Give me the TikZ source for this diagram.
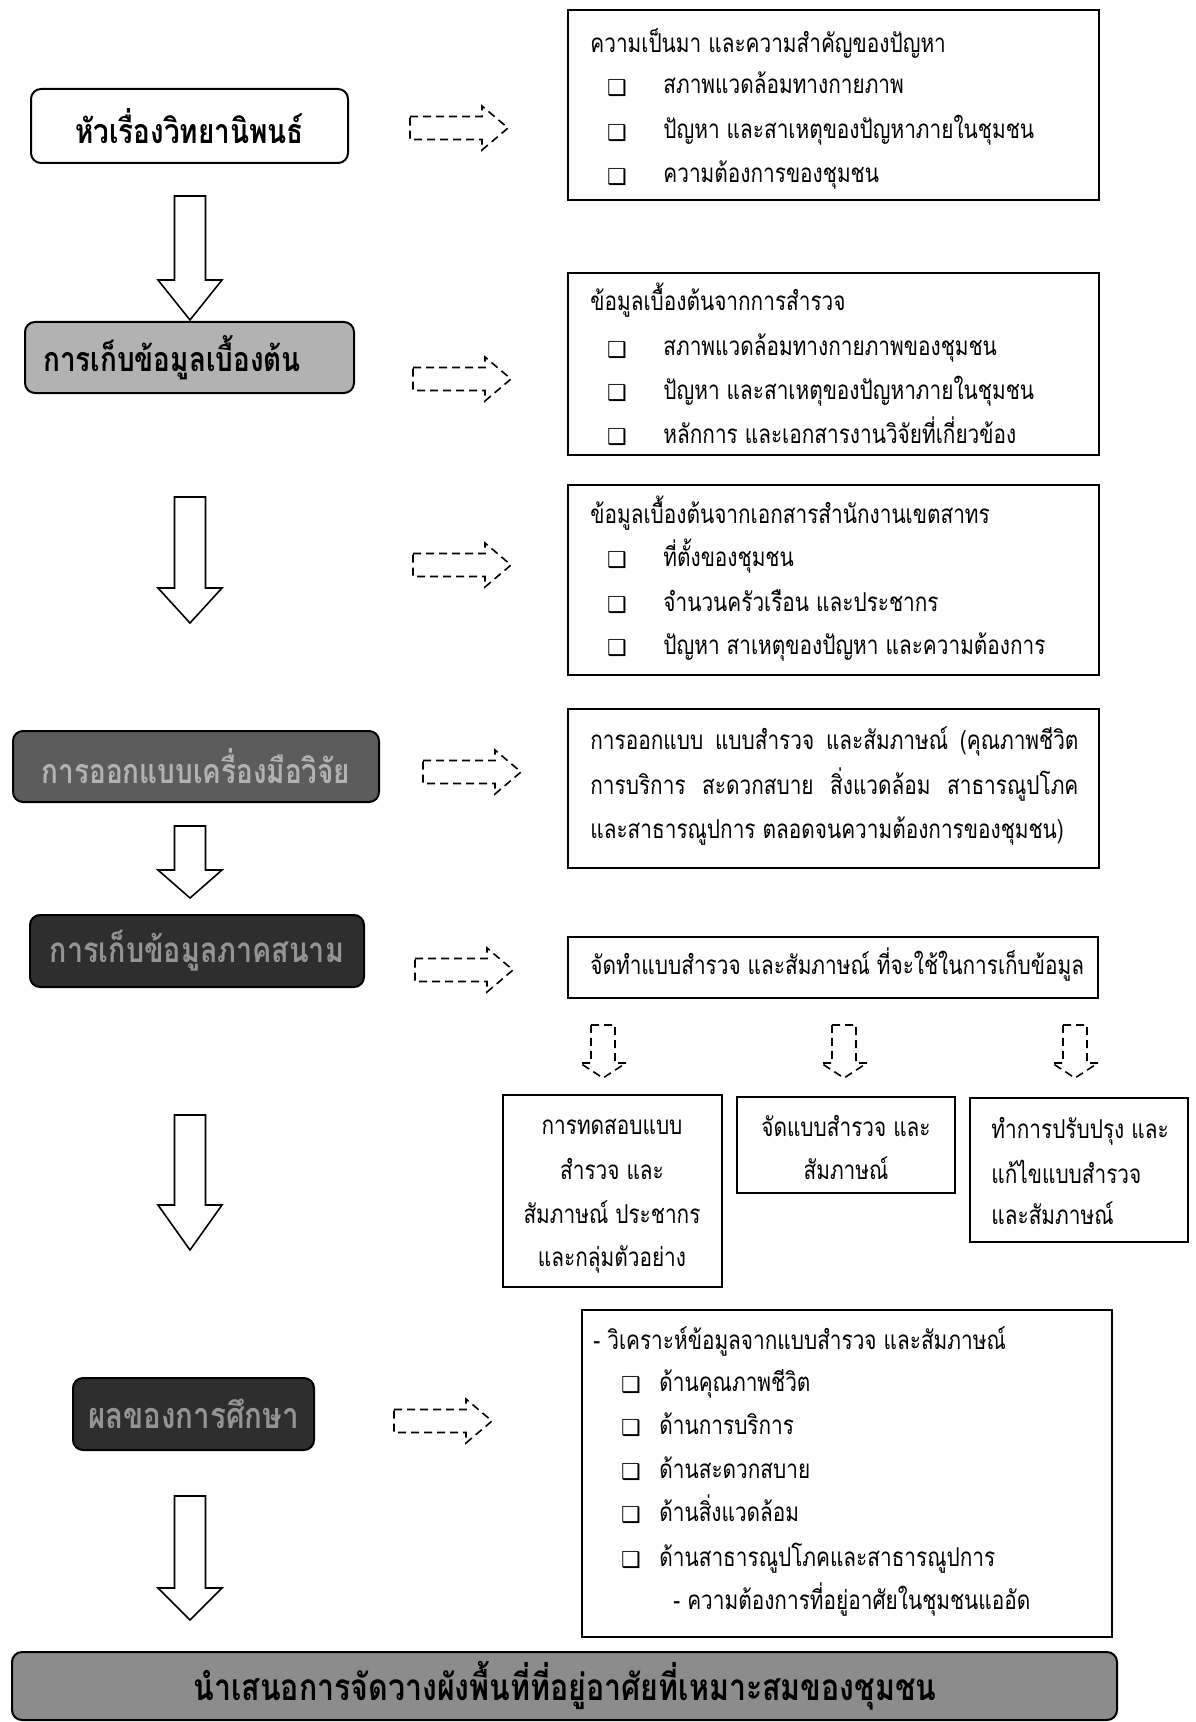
\documentclass[tikz,border=0pt]{standalone}
\usepackage{fontspec}
\setmainfont[Script=Thai]{Loma}
\newfontfamily\thn[Script=Thai, FakeStretch=0.80]{Loma}
\newfontfamily\thb[Script=Thai, FakeStretch=0.82]{Loma}
\newfontfamily\dejavu{DejaVu Sans}
\newcommand\pw[1]{#1*0.5pt}
\newcommand\downarr[3]{% coordinate name, shaft length, head length
  \draw[sarr] (#1) ++(-15.5,0) -- ++(31,0) -- ++(0,#2) -- ++(16.5,0) -- ++(-32,#3) -- ++(-32,-#3) -- ++(16.5,0) -- cycle;}
\newcommand\rdash[1]{%
  \draw[darr] (#1) ++(0,-11.5) -- ++(72,0) -- ++(0,-10.5) -- ++(26,22) -- ++(-26,22) -- ++(0,-10.5) -- ++(-72,0) -- cycle;}
\newcommand\ddash[1]{%
  \draw[darr] (#1) ++(-12,0) -- ++(24,0) -- ++(0,38) -- ++(11,0) -- ++(-23,15) -- ++(-23,-15) -- ++(11,0) -- cycle;}
\begin{document}
\begin{tikzpicture}[x=0.5pt,y=-0.5pt,
  rbox/.style={draw=black, line width=0.9pt, inner sep=0pt, outer sep=0pt, fill=white},
  lbox/.style={draw=black, line width=1pt, rounded corners=5pt, inner sep=0pt, outer sep=0pt},
  ltxt/.style={inner sep=0pt, font=\thb\bfseries\fontsize{17}{19}\selectfont},
  txt/.style={inner sep=0pt, text height=9pt, text depth=3pt, font=\thn\fontsize{13}{15}\selectfont},
  bul/.style={inner sep=0pt, font=\dejavu\bfseries\fontsize{11}{12}\selectfont},
  darr/.style={draw=black, line width=0.8pt, dash pattern=on 4pt off 2.5pt},
  sarr/.style={draw=black, line width=0.8pt, fill=white}]
\useasboundingbox (0,0) rectangle (1195,1722);
\fill[white] (0,0) rectangle (1195,1722);

% left column boxes
\node[lbox, fill=white, minimum width=\pw{317}, minimum height=\pw{74}] (T1) at (189.5,126) {};
\node[lbox, fill=black!30, minimum width=\pw{329}, minimum height=\pw{71}] (T2) at (189.5,357.5) {};
\node[lbox, fill=black!64, minimum width=\pw{366}, minimum height=\pw{71}] (T3) at (196,766.5) {};
\node[lbox, fill=black!82, minimum width=\pw{334}, minimum height=\pw{72}] (T4) at (197,951) {};
\node[lbox, fill=black!82, minimum width=\pw{241}, minimum height=\pw{72}] (T5) at (193.5,1414) {};
\node[lbox, fill=black!45, minimum width=\pw{1105}, minimum height=\pw{68}] (T6) at (564.5,1686) {};
\node[ltxt, text=black] (T1t) at (T1) {หัวเรื่องวิทยานิพนธ์};
\node[ltxt, text=black] (T2t) at (172,357.5) {การเก็บข้อมูลเบื้องต้น};
\node[ltxt, text=black!30] (T3t) at (T3) {การออกแบบเครื่องมือวิจัย};
\node[ltxt, text=black!42, font=\thb\bfseries\fontsize{17.5}{19}\selectfont] (T4t) at (T4) {การเก็บข้อมูลภาคสนาม};
\node[ltxt, text=black!42, font=\thb\bfseries\fontsize{18}{20}\selectfont] (T5t) at (T5) {ผลของการศึกษา};
\node[ltxt, text=black, font=\thb\bfseries\fontsize{18.5}{20}\selectfont] (T6t) at (565,1686) {นำเสนอการจัดวางผังพื้นที่ที่อยู่อาศัยที่เหมาะสมของชุมชน};

% solid down arrows
\coordinate (v1) at (190,196);
\coordinate (v2) at (190,497);
\coordinate (v3) at (190,826);
\coordinate (v4) at (190,1115);
\coordinate (v5) at (190,1496);
\downarr{v1}{84}{40}
\downarr{v2}{91}{35}
\downarr{v3}{44}{28}
\downarr{v4}{90}{45}
\downarr{v5}{92}{32}

% dashed right arrows
\coordinate (d1) at (410,128);
\coordinate (d2) at (413,379);
\coordinate (d3) at (413,565);
\coordinate (d4) at (423,772);
\coordinate (d5) at (415,970);
\coordinate (d6) at (394,1421);
\rdash{d1}\rdash{d2}\rdash{d3}\rdash{d4}\rdash{d5}\rdash{d6}

% box A
\node[rbox, minimum width=\pw{531}, minimum height=\pw{190}] (A) at (833.5,105) {};
\node[txt, anchor=west] (A0) at (590,47) {ความเป็นมา และความสำคัญของปัญหา};
\node[bul] (A1b) at (617,88) {❑};
\node[bul] (A2b) at (617,133) {❑};
\node[bul] (A3b) at (617,177) {❑};
\node[txt, anchor=west] (A1) at (663,88) {สภาพแวดล้อมทางกายภาพ};
\node[txt, anchor=west] (A2) at (663,133) {ปัญหา และสาเหตุของปัญหาภายในชุมชน};
\node[txt, anchor=west] (A3) at (663,177) {ความต้องการของชุมชน};

% box B
\node[rbox, minimum width=\pw{531}, minimum height=\pw{182}] (B) at (833.5,364) {};
\node[txt, anchor=west] (B0) at (590,305) {ข้อมูลเบื้องต้นจากการสำรวจ};
\node[bul] (B1b) at (617,350) {❑};
\node[bul] (B2b) at (617,393) {❑};
\node[bul] (B3b) at (617,437) {❑};
\node[txt, anchor=west] (B1) at (663,350) {สภาพแวดล้อมทางกายภาพของชุมชน};
\node[txt, anchor=west] (B2) at (663,393) {ปัญหา และสาเหตุของปัญหาภายในชุมชน};
\node[txt, anchor=west] (B3) at (663,437) {หลักการ และเอกสารงานวิจัยที่เกี่ยวข้อง};

% box C
\node[rbox, minimum width=\pw{531}, minimum height=\pw{190}] (C) at (833.5,580) {};
\node[txt, anchor=west] (C0) at (590,517) {ข้อมูลเบื้องต้นจากเอกสารสำนักงานเขตสาทร};
\node[bul] (C1b) at (617,560) {❑};
\node[bul] (C2b) at (617,605) {❑};
\node[bul] (C3b) at (617,648) {❑};
\node[txt, anchor=west] (C1) at (663,560) {ที่ตั้งของชุมชน};
\node[txt, anchor=west] (C2) at (663,605) {จำนวนครัวเรือน และประชากร};
\node[txt, anchor=west] (C3) at (663,648) {ปัญหา สาเหตุของปัญหา และความต้องการ};

% box D
\node[rbox, minimum width=\pw{531}, minimum height=\pw{159}] (D) at (833.5,788.5) {};
\node[txt, anchor=west] (D1) at (590,743) {\makebox[244pt][s]{การออกแบบ แบบสำรวจ  และสัมภาษณ์ (คุณภาพชีวิต}};
\node[txt, anchor=west] (D2) at (590,788) {\makebox[244pt][s]{การบริการ สะดวกสบาย สิ่งแวดล้อม สาธารณูปโภค}};
\node[txt, anchor=west] (D3) at (590,832) {และสาธารณูปการ ตลอดจนความต้องการของชุมชน)};

% box E
\node[rbox, minimum width=\pw{530}, minimum height=\pw{61}] (E) at (833,967.5) {};
\node[txt, anchor=west] (E1) at (590,968) {จัดทำแบบสำรวจ และสัมภาษณ์ ที่จะใช้ในการเก็บข้อมูล};

% small dashed arrows
\coordinate (s1) at (603,1025);
\coordinate (s2) at (844,1025);
\coordinate (s3) at (1075,1025);
\ddash{s1}\ddash{s2}\ddash{s3}

% boxes F
\node[rbox, minimum width=\pw{219}, minimum height=\pw{192}] (F1) at (612.5,1191) {};
\node[txt] (F11) at (612,1128) {การทดสอบแบบ};
\node[txt] (F12) at (612,1173) {สำรวจ และ};
\node[txt] (F13) at (612,1217) {สัมภาษณ์ ประชากร};
\node[txt] (F14) at (612,1260) {และกลุ่มตัวอย่าง};
\node[rbox, minimum width=\pw{218}, minimum height=\pw{96}] (F2) at (846,1145) {};
\node[txt] (F21) at (846,1130) {จัดแบบสำรวจ  และ};
\node[txt] (F22) at (846,1173) {สัมภาษณ์};
\node[rbox, minimum width=\pw{218}, minimum height=\pw{144}] (F3) at (1079,1170) {};
\node[txt, anchor=west] (F31) at (991,1132) {ทำการปรับปรุง และ};
\node[txt, anchor=west] (F32) at (991,1177) {แก้ไขแบบสำรวจ};
\node[txt, anchor=west] (F33) at (991,1218) {และสัมภาษณ์};

% box G
\node[rbox, minimum width=\pw{530}, minimum height=\pw{327}] (G) at (847,1473.5) {};
\node[txt, anchor=west] (G0) at (593,1343) {- วิเคราะห์ข้อมูลจากแบบสำรวจ  และสัมภาษณ์};
\node[bul] (G1b) at (631,1385) {❑};
\node[bul] (G2b) at (631,1428) {❑};
\node[bul] (G3b) at (631,1472) {❑};
\node[bul] (G4b) at (631,1515) {❑};
\node[bul] (G5b) at (631,1560) {❑};
\node[txt, anchor=west] (G1) at (659,1385) {ด้านคุณภาพชีวิต};
\node[txt, anchor=west] (G2) at (659,1428) {ด้านการบริการ};
\node[txt, anchor=west] (G3) at (659,1472) {ด้านสะดวกสบาย};
\node[txt, anchor=west] (G4) at (659,1515) {ด้านสิ่งแวดล้อม};
\node[txt, anchor=west] (G5) at (659,1560) {ด้านสาธารณูปโภคและสาธารณูปการ};
\node[txt, anchor=west] (G6) at (673,1603) {- ความต้องการที่อยู่อาศัยในชุมชนแออัด};
\end{tikzpicture}
\end{document}
